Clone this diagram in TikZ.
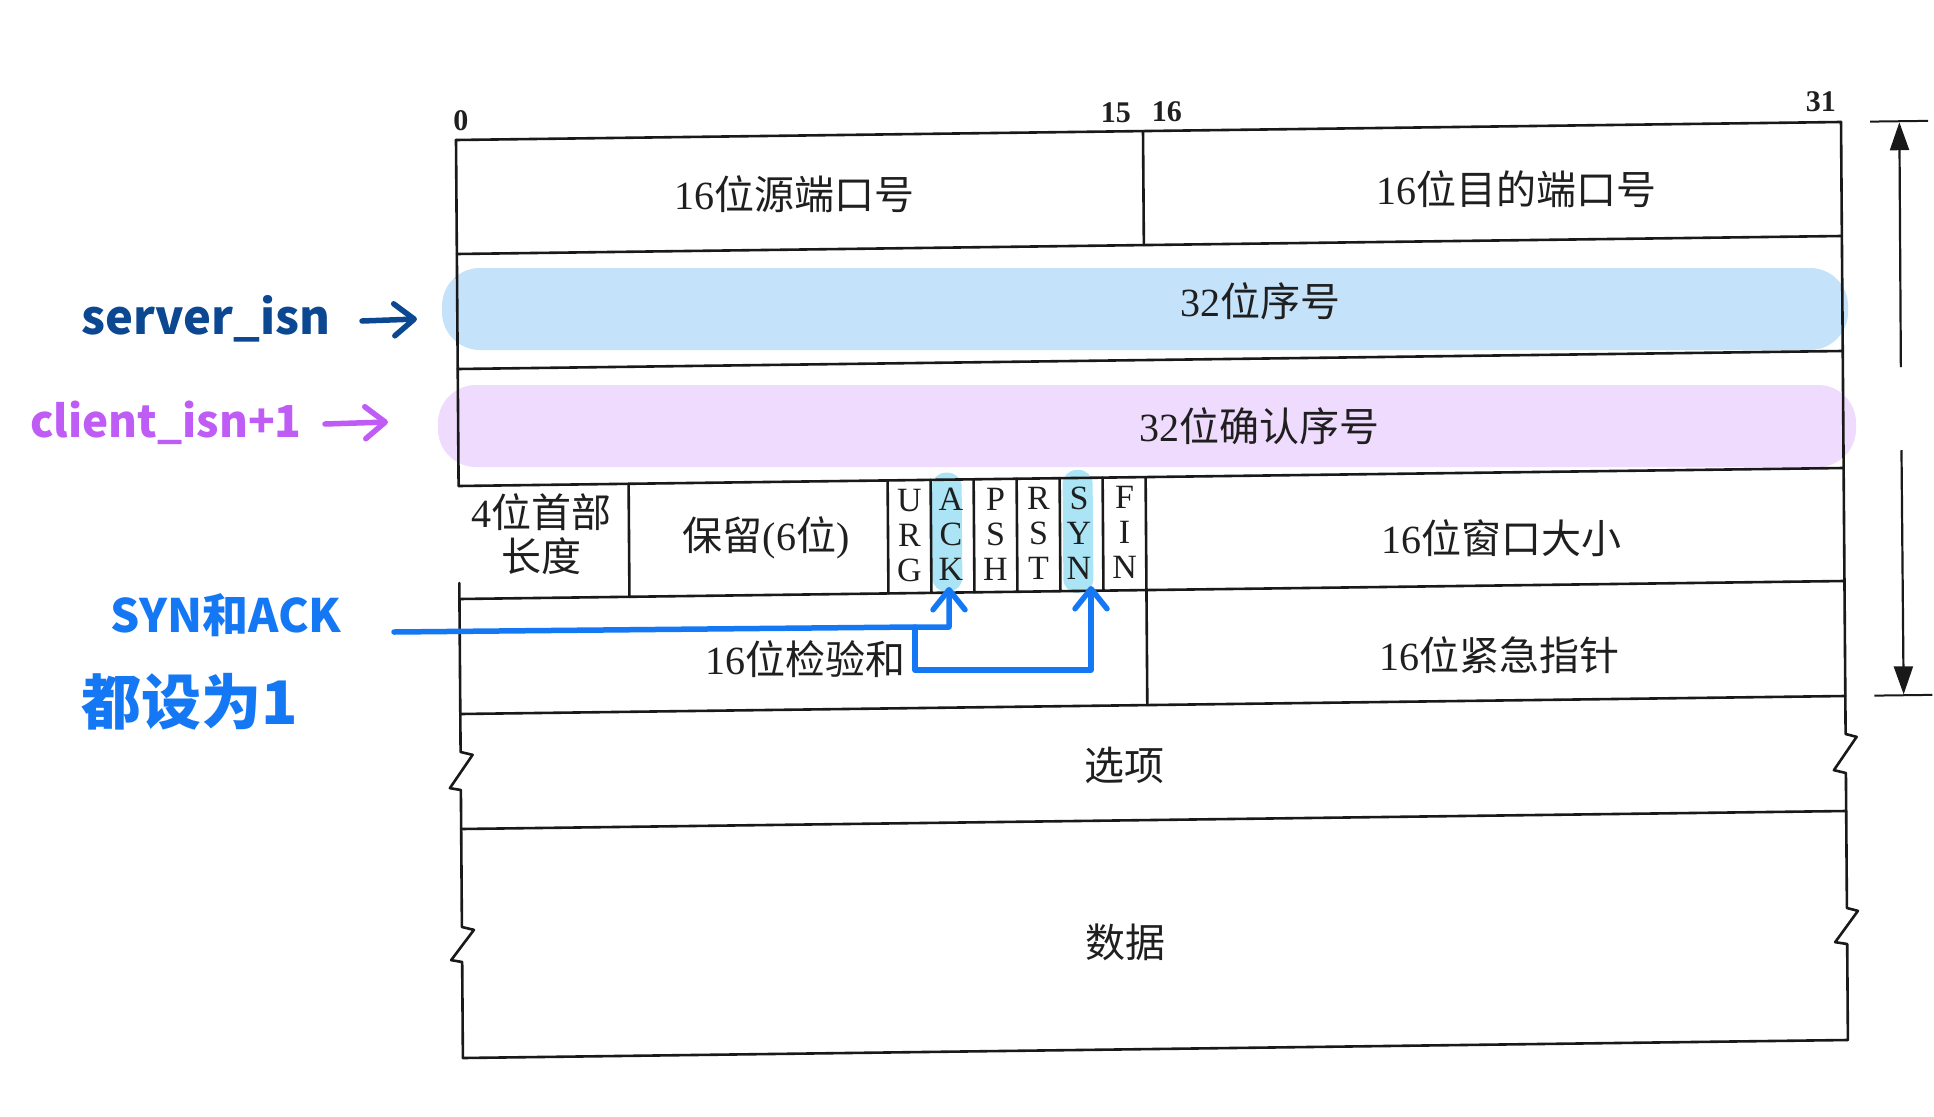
\documentclass[tikz,border=0pt]{standalone}
\usepackage{fontspec}
\setmainfont{Liberation Serif}
\newfontfamily\cjkfont{Noto Sans CJK SC}
\usetikzlibrary{arrows.meta,calc}
\newcommand\zh[1]{{\cjkfont #1}}
\definecolor{bandblue}{RGB}{197,226,251}
\definecolor{bandpurple}{RGB}{239,219,253}
\definecolor{flaghl}{RGB}{170,228,245}
\definecolor{penblue}{RGB}{20,120,245}
\definecolor{pendark}{RGB}{12,72,145}
\definecolor{penpurple}{RGB}{192,92,246}
\definecolor{tabline}{RGB}{25,25,25}
\begin{document}
\begin{tikzpicture}[x=1pt,y=-1pt,
  tab/.style={draw=tabline, line width=2.6pt, line cap=round, line join=round},
  cell/.style={font=\fontsize{40}{44}\selectfont, text=black!88, inner sep=0pt},
  flagtxt/.style={font=\fontsize{34}{35}\selectfont, text=black!88, align=center, inner sep=0pt},
  bitnum/.style={font=\bfseries\fontsize{30}{32}\selectfont, text=black!88, inner sep=0pt},
  hand/.style={font=\cjkfont\bfseries\fontsize{46}{52}\selectfont, inner sep=0pt, anchor=base},
  pen/.style={line width=5.5pt, line cap=round, line join=round},
  barb/.style={-{Straight Barb[length=20pt,width=32pt,round]}},
  dimtip/.style={-{Triangle[length=28pt,width=19pt]}},
]
\useasboundingbox (0,0) rectangle (1934,1116);
\fill[white] (0,0) rectangle (1934,1116);

% highlighter bands
\fill[bandblue, rounded corners=38pt] (442,268) rectangle (1848,350);
\fill[bandpurple, rounded corners=38pt] (438,385) rectangle (1856,467);

% the (slightly skewed) scanned header table
\begin{scope}[shift={(456,140)}, cm={1,0.013,-0.0075,1,(0,0)}]
  % flag highlights
  \fill[flaghl, rounded corners=14pt] (473,339) rectangle (503,458);
  \fill[flaghl, rounded corners=14pt] (604,338) rectangle (634,461);
  % horizontal lines
  \foreach \v in {0,114,229,346,459,574,689,918}
    \draw[tab] (0,\v) -- (1385,\v);
  % borders with break marks
  \draw[tab] (0,0) -- (0,346);
  \draw[tab] (0,443) -- (0,612) -- (12,615) -- (-11,648) -- (0,650) -- (0,787)
    -- (12,790) -- (-11,820) -- (0,822) -- (0,918);
  \draw[tab] (1385,0) -- (1385,612) -- (1396,615) -- (1373,648) -- (1385,651)
    -- (1385,786) -- (1396,789) -- (1373,820) -- (1385,822) -- (1385,918);
  % vertical dividers
  \draw[tab] (687,0) -- (687,114);
  \draw[tab] (170,346) -- (170,459);
  \foreach \u in {429,472,515,558,601,644,687}
    \draw[tab] (\u,346) -- (\u,459);
  \draw[tab] (687,459) -- (687,574);
  % bit numbers
  \node[bitnum] (b0) at (5,-19) {0};
  \node[bitnum] (b15) at (660,-19) {15};
  \node[bitnum] (b16) at (711,-19) {16};
  \node[bitnum] (b31) at (1365,-21) {31};
  % field texts
  \node[cell] (srcport) at (338,59) {16\zh{位源端口号}};
  \node[cell] (dstport) at (1060,63) {16\zh{位目的端口号}};
  \node[cell] (seqno) at (803,172) {32\zh{位序号}};
  \node[cell] (ackno) at (801,297) {32\zh{位确认序号}};
  \node[cell, align=center] (hdrlen) at (83,395) {4\zh{位首部}\\\zh{长度}};
  \node[cell] (resv) at (307,402) {\zh{保留}(6\zh{位})};
  \node[flagtxt] (urg) at (450.5,401) {U\\R\\G};
  \node[flagtxt] (ackf) at (492,401) {A\\C\\K};
  \node[flagtxt] (psh) at (536.5,401) {P\\S\\H};
  \node[flagtxt] (rst) at (579.5,401) {R\\S\\T};
  \node[flagtxt] (synf) at (620,401) {S\\Y\\N};
  \node[flagtxt] (fin) at (665.5,401) {F\\I\\N};
  \node[cell] (window) at (1042,412) {16\zh{位窗口大小}};
  \node[cell] (cksum) at (346,524) {16\zh{位检验和}};
  \node[cell] (urgptr) at (1040,529) {16\zh{位紧急指针}};
  \node[cell] (opts) at (664,634) {\zh{选项}};
  \node[cell] (data) at (663,811) {\zh{数据}};
  % 20-byte dimension arrows
  \draw[draw=tabline, line width=2pt] (1414,0) -- (1472,0);
  \draw[draw=tabline, line width=2pt] (1414,574) -- (1472,574);
  \coordinate (dimtop) at (1443,1);
  \coordinate (dimbot) at (1443,573);
  \draw[draw=tabline, fill=tabline, line width=2.2pt, dimtip] (1443,246) -- (dimtop);
  \draw[draw=tabline, fill=tabline, line width=2.2pt, dimtip] (1443,329) -- (dimbot);
\end{scope}

% handwritten annotations
\node[hand, text=pendark, font=\cjkfont\bfseries\fontsize{47}{52}\selectfont] (srvlbl) at (206,334) {server\_isn};
\coordinate (srvfrom) at (362,321);
\coordinate (srvtip) at (417,319);
\draw[pen, pendark, barb] (srvfrom) -- (srvtip);

\node[hand, text=penpurple, font=\cjkfont\bfseries\fontsize{44}{50}\selectfont] (clilbl) at (166,437) {client\_isn+1};
\coordinate (clifrom) at (325,424);
\coordinate (clitip) at (388,422);
\draw[pen, penpurple, barb] (clifrom) -- (clitip);

\node[hand, text=penblue] (synlbl) at (226,632) {SYN\zh{和}ACK};
\node[hand, text=penblue, font=\cjkfont\bfseries\fontsize{60}{64}\selectfont] (setlbl) at (190,724) {都设为1};

\coordinate (hstart) at (394,632);
\coordinate (branch) at (915,627);
\coordinate (acktip) at (949,587);
\coordinate (syntip) at (1091,586);
\draw[pen, penblue, barb] (hstart) -- (branch) -| (acktip);
\draw[pen, penblue, barb] (branch) -- ++(0,43) -| (syntip);
\end{tikzpicture}
\end{document}
